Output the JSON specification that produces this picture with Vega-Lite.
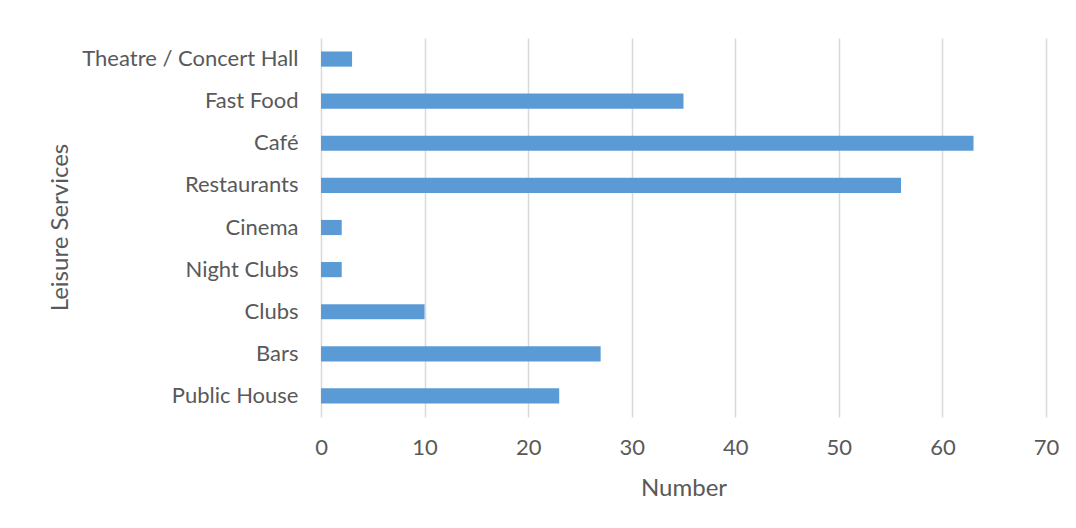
{
  "$schema": "https://vega.github.io/schema/vega-lite/v6.json",
  "width": 725,
  "height": 379,
  "autosize": "none",
  "padding": {"left": 321, "top": 38, "right": 30, "bottom": 111},
  "background": "white",
  "data": {
    "values": [
      {"service": "Theatre / Concert Hall", "number": 3},
      {"service": "Fast Food", "number": 35},
      {"service": "Café", "number": 63},
      {"service": "Restaurants", "number": 56},
      {"service": "Cinema", "number": 2},
      {"service": "Night Clubs", "number": 2},
      {"service": "Clubs", "number": 10},
      {"service": "Bars", "number": 27},
      {"service": "Public House", "number": 23}
    ]
  },
  "mark": {"type": "bar", "color": "#5B9BD5"},
  "encoding": {
    "y": {
      "field": "service",
      "type": "nominal",
      "sort": null,
      "scale": {"paddingInner": 0.64, "paddingOuter": 0.32},
      "axis": {
        "title": "Leisure Services",
        "domain": false,
        "ticks": false,
        "labelPadding": 23,
        "labelLimit": 0,
        "labelFont": "Lato",
        "labelFontSize": 22,
        "labelColor": "#595959",
        "titleFont": "Lato",
        "titleFontSize": 24,
        "titleFontWeight": "normal",
        "titleColor": "#595959",
        "titleX": -261,
        "titleY": 189,
        "titleAngle": -90,
        "titleAlign": "center",
        "titleBaseline": "middle"
      }
    },
    "x": {
      "field": "number",
      "type": "quantitative",
      "scale": {"domain": [0, 70], "nice": false},
      "axis": {
        "title": "Number",
        "values": [0, 10, 20, 30, 40, 50, 60, 70],
        "domain": false,
        "ticks": false,
        "grid": true,
        "gridColor": "#d9d9d9",
        "gridWidth": 1.5,
        "labelFlush": false,
        "labelPadding": 20,
        "labelFont": "Lato",
        "labelFontSize": 22,
        "labelColor": "#595959",
        "titleFont": "Lato",
        "titleFontSize": 24,
        "titleFontWeight": "normal",
        "titleColor": "#595959",
        "titleY": 71,
        "titleBaseline": "middle"
      }
    }
  },
  "config": {"view": {"stroke": null}}
}
